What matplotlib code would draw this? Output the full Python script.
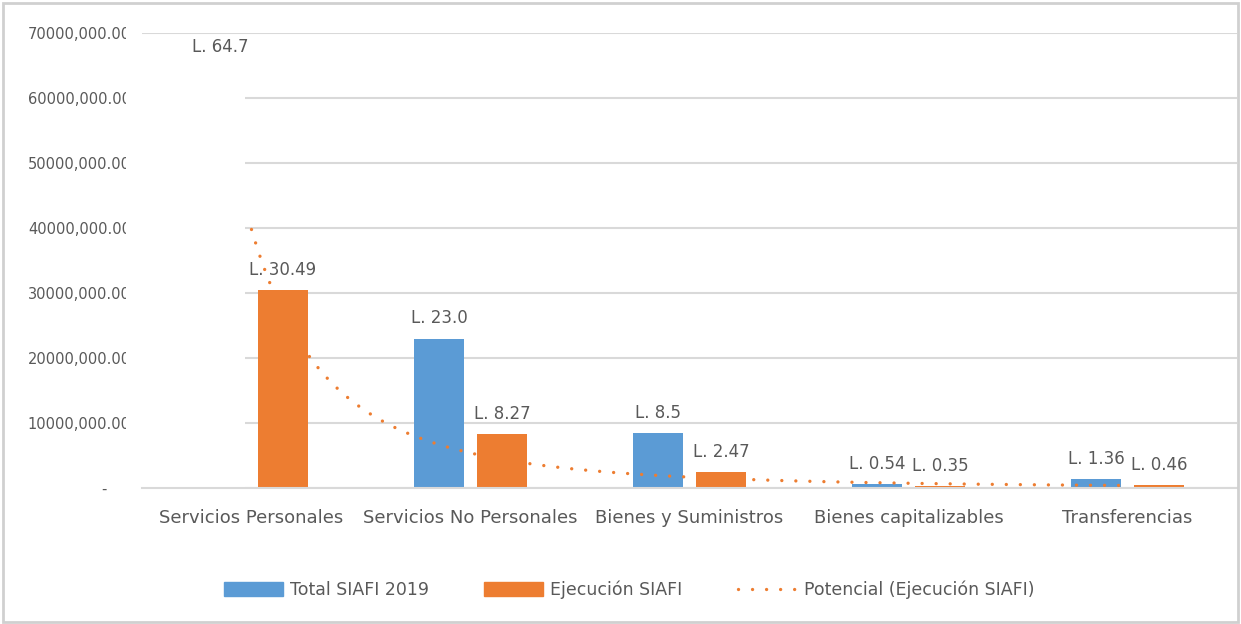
import matplotlib.pyplot as plt
import matplotlib.patches as mpatches
from matplotlib.lines import Line2D
from matplotlib.transforms import Bbox
import numpy as np

categories = ["Servicios Personales", "Servicios No Personales", "Bienes y Suministros",
              "Bienes capitalizables", "Transferencias"]
total_siafi = [64.7e6, 23.0e6, 8.5e6, 0.54e6, 1.36e6]
ejecucion = [30.49e6, 8.27e6, 2.47e6, 0.35e6, 0.46e6]
total_labels = ["L. 64.7", "L. 23.0", "L. 8.5", "L. 0.54", "L. 1.36"]
ejec_labels = ["L. 30.49", "L. 8.27", "L. 2.47", "L. 0.35", "L. 0.46"]
yticks = [0, 10e6, 20e6, 30e6, 40e6, 50e6, 60e6, 70e6]
ytick_labels = ["-     ", "10000,000.00", "20000,000.00", "30000,000.00", "40000,000.00",
                "50000,000.00", "60000,000.00", "70000,000.00"]

blue = '#5b9bd5'
orange = '#ed7d31'
grey = '#595959'
grid = '#d9d9d9'

plt.rcParams['font.family'] = ['DejaVu Sans']

fig = plt.figure(figsize=(12.41, 6.24), dpi=100)
ax = fig.add_axes([142/1241, 1-488/624, (1237-142)/1241, (488-33)/624])

x = np.arange(len(categories))
w = 0.226
off = 0.144

# first blue bar is drawn blank (hides the gridlines behind it)
colors_total = ['white'] + [blue] * (len(categories) - 1)
b1 = ax.bar(x - off, total_siafi, w, color=colors_total, zorder=2)
b2 = ax.bar(x + off, ejecucion, w, color=orange, zorder=2)
# white area left of the first bar
left = -0.5
ax.bar(left, total_siafi[0], (x[0] - off + w / 2) - left, align='edge',
       color='white', zorder=1.5)

for xi, v, lab in zip(x - off, total_siafi, total_labels):
    ax.annotate(lab, (xi, v), xytext=(0, 8), textcoords='offset points',
                ha='center', va='bottom', fontsize=12, color=grey, zorder=5)
for xi, v, lab in zip(x + off, ejecucion, ejec_labels):
    ax.annotate(lab, (xi, v), xytext=(0, 8), textcoords='offset points',
                ha='center', va='bottom', fontsize=12, color=grey, zorder=5)

# power trendline fitted to Ejecucion SIAFI
xs = np.arange(1, len(categories) + 1)
b, lna = np.polyfit(np.log(xs), np.log(ejecucion), 1)
xf = np.linspace(1, len(categories), 300)
yf = np.exp(lna) * xf ** b
ax.plot(xf - 1, yf, color=orange, lw=2.4, linestyle=(0, (0.01, 4.2)),
        dash_capstyle='round', zorder=4)

ax.set_xlim(-0.5, len(categories) - 0.5)
ax.set_ylim(0, 70e6)
ax.set_yticks(yticks)
ax.set_yticklabels(ytick_labels)
ax.set_xticks(x)
ax.set_xticklabels(categories)
ax.yaxis.grid(True, color=grid, lw=1.5, zorder=0)
ax.set_axisbelow(True)
for s in ['top', 'right', 'left']:
    ax.spines[s].set_visible(False)
ax.spines['bottom'].set_color(grid)
ax.spines['bottom'].set_linewidth(1.5)
ax.spines['bottom'].set_zorder(3)
ax.tick_params(axis='both', length=0, colors=grey)
ax.tick_params(axis='y', labelsize=10.5, pad=8)
ax.tick_params(axis='x', labelsize=13, pad=15)

# tick labels are cut off on the right like in the original
clip = Bbox.from_extents(0, 0, 126, 624)
for t in ax.get_yticklabels():
    t.set_clip_box(clip)
    t.set_clip_on(True)

handles = [mpatches.Patch(color=blue, label='Total SIAFI 2019'),
           mpatches.Patch(color=orange, label='Ejecución SIAFI'),
           Line2D([], [], color=orange, lw=2.4, linestyle=(0, (0.01, 4.2)),
                  dash_capstyle='round', label='Potencial (Ejecución SIAFI)')]
leg = fig.legend(handles=handles, loc='center', bbox_to_anchor=(629/1241, 1-590/624),
                 ncol=3, frameon=False, fontsize=12.5, handlelength=3.4,
                 handleheight=0.9, columnspacing=3.2, handletextpad=0.4)
for t in leg.get_texts():
    t.set_color(grey)

fig.patches.append(mpatches.Rectangle((3/1241, 2/624), 1235/1241, 619/624,
                                      transform=fig.transFigure, fill=False,
                                      edgecolor='#d0d0d0', lw=2))

plt.savefig("out.png", dpi=100)
